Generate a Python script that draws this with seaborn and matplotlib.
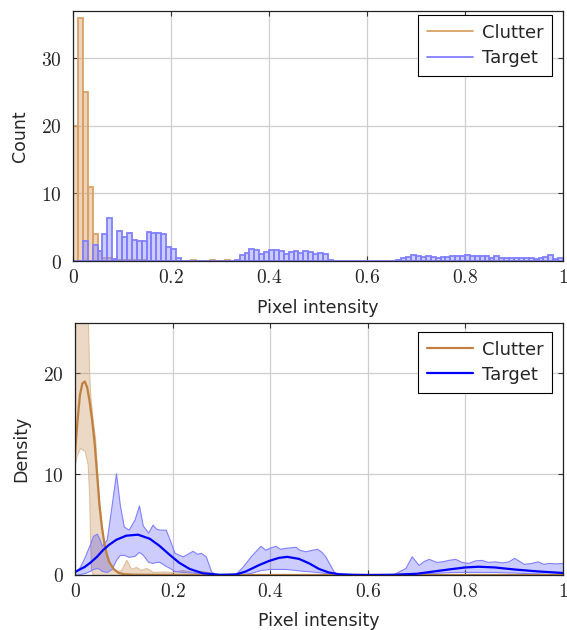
import numpy as np
import pandas as pd
import matplotlib
matplotlib.use("Agg")
import matplotlib.pyplot as plt
from matplotlib.lines import Line2D
from matplotlib.ticker import FuncFormatter
import seaborn as sns

# ---------------- data ----------------
bin_width = 0.01
# Clutter histogram counts, bins 0..(n-1) of width 0.01
clutter_counts = [20, 36, 25, 11, 4, 1.5, 0.5, 0.4, 0.2, 0.1, 0.1, 0.1, 0.1, 0.1, 0.1,
                  0.05, 0.05, 0.05, 0.05, 0.05, 0.05, 0.05, 0.05, 0.05, 0.2, 0.05, 0.05,
                  0.05, 0.2, 0.05, 0.05, 0.2]
# Target histogram counts, bins 0..99
target_counts = [0, 0, 2.9, 0, 2.3, 1.5, 4.0, 6.4, 0.3, 4.5, 3.6, 4.1, 3.1, 3.0, 2.9,
                 4.3, 4.2, 4.1, 4.0, 2.0, 1.8, 0.45, 0.05, 0.05, 0.05, 0.05, 0.05, 0.05,
                 0.05, 0.05, 0.05, 0.05, 0.05, 0.2, 0.9, 1.2, 1.8, 1.6, 1.1, 1.4, 1.6,
                 1.7, 1.5, 1.0, 1.4, 1.5, 1.2, 1.5, 1.3, 1.0, 1.2, 1.0, 0.2, 0.05, 0.05,
                 0.05, 0.05, 0.05, 0.05, 0.05, 0.05, 0.05, 0.05, 0.05, 0.05, 0.05, 0.2,
                 0.5, 0.6, 0.9, 0.8, 0.6, 0.7, 0.6, 0.4, 0.6, 0.6, 0.7, 0.8, 0.7, 0.9,
                 0.8, 0.8, 0.8, 0.7, 0.5, 0.7, 0.5, 0.5, 0.4, 0.5, 0.4, 0.4, 0.4, 0.3,
                 0.4, 0.6, 0.9, 0.3, 0.5]

# Density curves (mean)
clutter_x = [0.0, 0.005, 0.01, 0.015, 0.02, 0.025, 0.03, 0.035, 0.04, 0.045, 0.05,
             0.055, 0.06, 0.065, 0.07, 0.08, 0.09, 0.1, 0.12, 0.15, 0.2, 0.3, 0.5, 0.7, 1.0]
clutter_y = [12.0, 15.2, 17.8, 19.0, 19.2, 18.6, 17.2, 15.4, 13.2, 10.2, 7.0,
             4.8, 3.2, 2.1, 1.3, 0.55, 0.2, 0.08, 0.03, 0.02, 0.01, 0.0, 0.0, 0.0, 0.0]

target_x = [0.0, 0.02, 0.031, 0.045, 0.058, 0.07, 0.085, 0.105, 0.129, 0.153, 0.173,
            0.194, 0.214, 0.235, 0.262, 0.296, 0.33, 0.35, 0.378, 0.398, 0.418, 0.435,
            0.459, 0.48, 0.5, 0.52, 0.54, 0.57, 0.6, 0.65, 0.7, 0.766, 0.8, 0.827,
            0.86, 0.9, 0.95, 1.0]
target_y = [0.3, 0.8, 1.2, 1.8, 2.5, 3.0, 3.5, 3.9, 4.0, 3.6, 2.9,
            2.0, 1.2, 0.6, 0.17, 0.02, 0.05, 0.35, 1.0, 1.4, 1.7, 1.8,
            1.6, 1.15, 0.6, 0.25, 0.08, 0.02, 0.0, 0.02, 0.12, 0.55, 0.75, 0.82,
            0.75, 0.55, 0.35, 0.2]

# Density bands (lower / upper)
clutter_band_x = [0.0, 0.003, 0.01, 0.02, 0.026, 0.029, 0.031, 0.033, 0.036, 0.041, 0.045,
                  0.05, 0.058, 0.065, 0.075, 0.085, 0.095, 0.105, 0.115, 0.125, 0.135,
                  0.146, 0.16, 0.18, 0.2, 0.22, 0.24, 0.26, 0.28, 0.3, 0.4, 0.6, 0.8, 1.0]
clutter_band_lo = [11.0, 11.8, 12.6, 12.3, 11.0, 8.0, 3.5, 0.5, 0.1, 0.0, 0.0,
                   0.0, 0.0, 0.0, 0.0, 0.0, 0.0, 0.0, 0.0, 0.0, 0.0,
                   0.0, 0.0, 0.0, 0.0, 0.0, 0.0, 0.0, 0.0, 0.0, 0.0, 0.0, 0.0, 0.0]
clutter_band_hi = [26.0, 26.0, 26.0, 26.0, 26.0, 20.0, 18.0, 17.0, 15.5, 13.6, 10.3,
                   7.0, 3.5, 1.85, 0.85, 0.35, 0.5, 1.5, 0.6, 0.8, 0.5,
                   0.7, 0.3, 0.35, 0.3, 0.5, 0.3, 0.4, 0.2, 0.05, 0.03, 0.02, 0.02, 0.02]

target_band_x = [0.0, 0.01, 0.02, 0.03, 0.037, 0.045, 0.05, 0.055, 0.065, 0.075, 0.084,
                 0.092, 0.1, 0.11, 0.122, 0.131, 0.139, 0.15, 0.159, 0.166, 0.173, 0.186,
                 0.194, 0.204, 0.221, 0.241, 0.25, 0.258, 0.268, 0.279, 0.29, 0.33,
                 0.344, 0.36, 0.38, 0.39, 0.398, 0.411, 0.42, 0.432, 0.452, 0.46, 0.472,
                 0.485, 0.496, 0.505, 0.513, 0.53, 0.54, 0.65, 0.677, 0.69, 0.704, 0.715,
                 0.725, 0.74, 0.752, 0.765, 0.779, 0.792, 0.806, 0.82, 0.833, 0.845,
                 0.86, 0.875, 0.888, 0.9, 0.91, 0.92, 0.935, 0.948, 0.96, 0.969, 0.985, 1.0]
target_band_hi = [0.3, 0.8, 1.8, 3.0, 3.9, 4.1, 3.6, 2.9, 3.5, 6.9, 10.1,
                  6.9, 4.8, 4.5, 5.5, 6.9, 4.9, 4.2, 5.0, 4.6, 4.5, 4.5,
                  3.5, 2.2, 1.85, 2.4, 2.1, 2.2, 1.85, 0.35, 0.0, 0.15,
                  0.85, 1.85, 2.9, 2.5, 2.7, 2.9, 2.6, 2.7, 2.8, 2.5, 2.35,
                  2.5, 2.6, 2.3, 1.85, 0.35, 0.0, 0.0, 0.7, 1.85, 1.0, 1.4,
                  1.6, 1.3, 1.35, 1.5, 1.6, 1.3, 1.2, 1.45, 1.5, 1.3,
                  1.35, 1.25, 1.35, 1.7, 1.4, 1.1, 1.2, 1.35, 1.1, 1.2, 1.15, 1.2]
target_band_lo = [0.0, 0.1, 0.2, 0.4, 0.6, 0.7, 0.6, 0.4, 0.3, 0.6, 1.5,
                  2.0, 2.0, 1.8, 1.9, 2.3, 2.0, 1.3, 1.2, 1.3, 1.3, 0.9,
                  0.7, 0.4, 0.3, 0.25, 0.2, 0.2, 0.15, 0.05, 0.0, 0.0,
                  0.1, 0.2, 0.5, 0.55, 0.6, 0.6, 0.6, 0.6, 0.5, 0.45, 0.4,
                  0.35, 0.3, 0.25, 0.2, 0.05, 0.0, 0.0, 0.05, 0.1, 0.15, 0.18,
                  0.2, 0.22, 0.25, 0.28, 0.3, 0.3, 0.3, 0.3, 0.3, 0.3,
                  0.3, 0.28, 0.25, 0.25, 0.22, 0.2, 0.18, 0.15, 0.12, 0.1, 0.1, 0.1]

x_ticks = [0, 0.2, 0.4, 0.6, 0.8, 1]
top_y_ticks = [0, 10, 20, 30]
bot_y_ticks = [0, 10, 20]
series_names = ["Clutter", "Target"]

# ---------------- style ----------------
sns.set_theme(style="whitegrid")
plt.rcParams["font.family"] = ["DejaVu Sans"]
plt.rcParams["mathtext.fontset"] = "cm"

brown = (0.75, 0.5, 0.25)
clutter_hist_col = (0.85, 0.63, 0.40)
target_hist_col = (0.5, 0.5, 1.0)
blue = (0.0, 0.0, 1.0)

fig = plt.figure(figsize=(5.67, 6.30), dpi=100)
ax1 = fig.add_axes([73 / 567, 1 - 261 / 630, 490 / 567, 250 / 630])
ax2 = fig.add_axes([75 / 567, 1 - 575 / 630, 488 / 567, 252 / 630])

fmt = FuncFormatter(lambda v, p: f"${v:g}$")


def style_axes(ax):
    ax.set_facecolor("white")
    ax.grid(True, color="#cfcfcf", linewidth=0.9)
    ax.set_axisbelow(True)
    for s in ax.spines.values():
        s.set_visible(True)
        s.set_color("#222222")
        s.set_linewidth(0.9)
    ax.tick_params(direction="in", length=3.5, width=0.8, color="#333333",
                   top=True, right=True, bottom=True, left=True,
                   labelsize=14, pad=5)
    ax.tick_params(axis="y", pad=8)
    ax.xaxis.set_major_formatter(fmt)
    ax.yaxis.set_major_formatter(fmt)


def style_legend(ax, handles, anchor):
    leg = ax.legend(handles, series_names, loc="upper right", bbox_to_anchor=anchor,
                    borderaxespad=0, fancybox=False, framealpha=1, edgecolor="black",
                    fontsize=13, handlelength=2.5, handletextpad=0.5, borderpad=0.5,
                    labelspacing=0.4)
    leg.get_frame().set_linewidth(0.8)
    return leg


# ---------------- top: histogram ----------------
n_c = len(clutter_counts)
n_t = len(target_counts)
df_c = pd.DataFrame({"x": (np.arange(n_c) + 0.5) * bin_width, "w": clutter_counts})
df_t = pd.DataFrame({"x": (np.arange(n_t) + 0.5) * bin_width, "w": target_counts})

sns.histplot(data=df_c, x="x", weights="w", binwidth=bin_width, binrange=(0, n_c * bin_width),
             ax=ax1, color=clutter_hist_col, alpha=0.45, edgecolor=clutter_hist_col,
             linewidth=1.3)
sns.histplot(data=df_t, x="x", weights="w", binwidth=bin_width, binrange=(0, n_t * bin_width),
             ax=ax1, color=target_hist_col, alpha=0.4, edgecolor=target_hist_col,
             linewidth=1.3)

style_axes(ax1)
ax1.set_xlim(0, 1)
ax1.set_ylim(0, 37)
ax1.set_xticks(x_ticks)
ax1.set_yticks(top_y_ticks)
ax1.set_xlabel("Pixel intensity", fontsize=12.5, labelpad=9)
ax1.set_ylabel("Count", fontsize=12.5, labelpad=9)
style_legend(ax1, [Line2D([], [], color=clutter_hist_col, lw=1.3),
                   Line2D([], [], color=target_hist_col, lw=1.3)], (0.978, 0.985))

# ---------------- bottom: density ----------------
ax2.fill_between(clutter_band_x, clutter_band_lo, clutter_band_hi,
                 facecolor=(*brown, 0.3), edgecolor=(0.87, 0.75, 0.62), linewidth=0.8)
ax2.fill_between(target_band_x, target_band_lo, target_band_hi,
                 facecolor=(*blue, 0.2), edgecolor=(0.5, 0.5, 1.0), linewidth=0.8)
sns.lineplot(x=clutter_x, y=clutter_y, ax=ax2, color=brown, linewidth=1.6)
sns.lineplot(x=target_x, y=target_y, ax=ax2, color=blue, linewidth=1.6)

style_axes(ax2)
ax2.set_xlim(0, 1)
ax2.set_ylim(0, 25)
ax2.set_xticks(x_ticks)
ax2.set_yticks(bot_y_ticks)
ax2.set_xlabel("Pixel intensity", fontsize=12.5, labelpad=8)
ax2.set_ylabel("Density", fontsize=12.5, labelpad=9)
style_legend(ax2, [Line2D([], [], color=brown, lw=1.6),
                   Line2D([], [], color=blue, lw=1.6)], (0.978, 0.966))

fig.savefig("out.png", dpi=100)
